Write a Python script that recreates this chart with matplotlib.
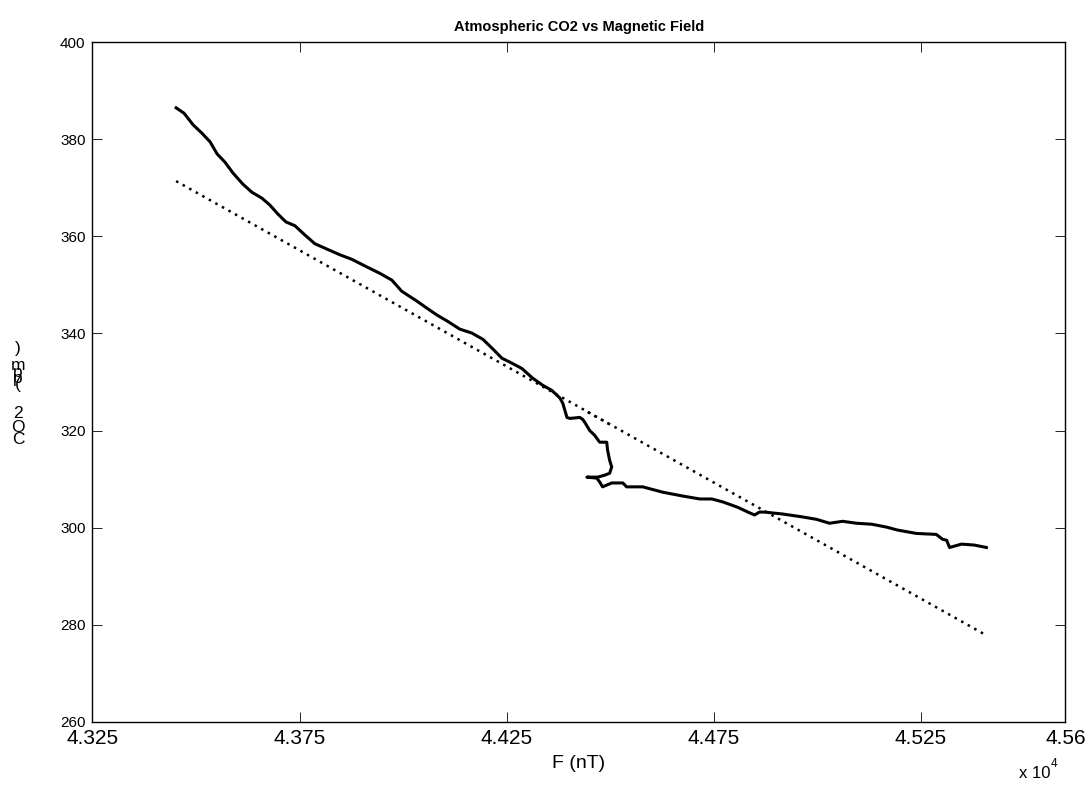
import numpy as np
import matplotlib
matplotlib.use("Agg")
import matplotlib.pyplot as plt

plt.rcParams['font.family'] = ['Liberation Sans', 'DejaVu Sans']

# magnetic field F (nT) and CO2 (ppm)
field = [43452, 43471, 43493, 43514, 43534, 43551, 43570, 43589, 43613, 43635,
         43659, 43678, 43698, 43717, 43739, 43763, 43787, 43816, 43848, 43876,
         43913, 43944, 43973, 43997, 44033, 44058, 44082, 44108, 44137, 44166,
         44193, 44217, 44239, 44258, 44287, 44313, 44338, 44359, 44379, 44386,
         44396, 44403, 44427, 44434, 44439, 44451, 44463, 44475, 44492, 44494,
         44499, 44504, 44499, 44487, 44470, 44444, 44468, 44475, 44482, 44504,
         44516, 44531, 44540, 44579, 44627, 44676, 44717, 44746, 44772, 44808,
         44833, 44849, 44861, 44873, 44917, 44965, 44999, 45030, 45062, 45095,
         45132, 45168, 45194, 45240, 45288, 45303, 45313, 45320, 45349, 45380,
         45409]
co2 = [386.5, 385.4, 383.0, 381.3, 379.5, 377.0, 375.3, 373.1, 370.8, 369.1,
       367.9, 366.5, 364.6, 363.0, 362.2, 360.3, 358.5, 357.4, 356.2, 355.3,
       353.7, 352.4, 351.0, 348.7, 346.7, 345.2, 343.8, 342.5, 340.9, 340.1,
       338.8, 336.8, 334.9, 334.1, 332.8, 330.8, 329.3, 328.3, 326.7, 325.6,
       322.7, 322.5, 322.7, 322.3, 321.7, 320.0, 319.0, 317.6, 317.6, 316.0,
       313.9, 312.5, 311.2, 310.8, 310.4, 310.4, 310.2, 309.4, 308.4, 309.2,
       309.2, 309.2, 308.4, 308.4, 307.3, 306.5, 305.9, 305.9, 305.3, 304.2,
       303.2, 302.6, 303.2, 303.2, 302.8, 302.2, 301.7, 300.9, 301.3, 300.9,
       300.7, 300.1, 299.5, 298.8, 298.6, 297.6, 297.4, 295.9, 296.6, 296.4,
       295.9]

# linear fit line (end points)
fit_x = [43452, 45409]
fit_y = [371.4, 277.8]
# stretch where the fit is drawn twice (data doubles back)
fit_loop_x = [44438, 44503]
fit_loop_y = [324.2, 321.1]

xtick_vals = [43250, 43750, 44250, 44750, 45250, 45600]
xtick_labels = ['4.325', '4.375', '4.425', '4.475', '4.525', '4.56']
ytick_vals = [260, 280, 300, 320, 340, 360, 380, 400]

fig = plt.figure(figsize=(10.88, 7.85), dpi=100)
ax = fig.add_axes([0.085, 0.0806, 0.8943, 0.8655])

ax.plot(field, co2, color='black', lw=2.2, solid_joinstyle='round')
ax.plot(fit_x, fit_y, color='black', lw=1.8, linestyle=(0, (1, 2)))
ax.plot(fit_loop_x, fit_loop_y, color='black', lw=1.8, linestyle=(1.5, (1, 2)))

ax.set_xlim(43250, 45600)
ax.set_ylim(260, 400)
ax.set_xticks(xtick_vals)
ax.set_xticklabels(xtick_labels, fontsize=15)
ax.set_yticks(ytick_vals)
ax.set_yticklabels([str(v) for v in ytick_vals], fontsize=11)
ax.tick_params(direction='in', length=7, width=0.6, top=True, right=True, pad=5)
for s in ax.spines.values():
    s.set_linewidth(1.0)

ax.set_title('Atmospheric CO2 vs Magnetic Field', fontsize=10.5,
             fontweight='bold', pad=8)
ax.set_xlabel('F (nT)', fontsize=14, labelpad=5)

# y label drawn as upright stacked characters
ylab_chars = ['C', 'O', '2', '(', 'p', 'p', 'm', ')']
ylab_ypx = [440, 427, 413, 384, 378, 372, 366, 349]
for ch, ypx in zip(ylab_chars, ylab_ypx):
    fig.text(18 / 1088, 1 - ypx / 785, ch, fontsize=12.5,
             ha='center', va='center')

fig.text(1019 / 1088, 1 - 774 / 785, 'x 10', fontsize=12,
         ha='left', va='center')
fig.text(1051 / 1088, 1 - 764 / 785, '4', fontsize=8.5,
         ha='left', va='center')

fig.savefig('out.png', dpi=100)
